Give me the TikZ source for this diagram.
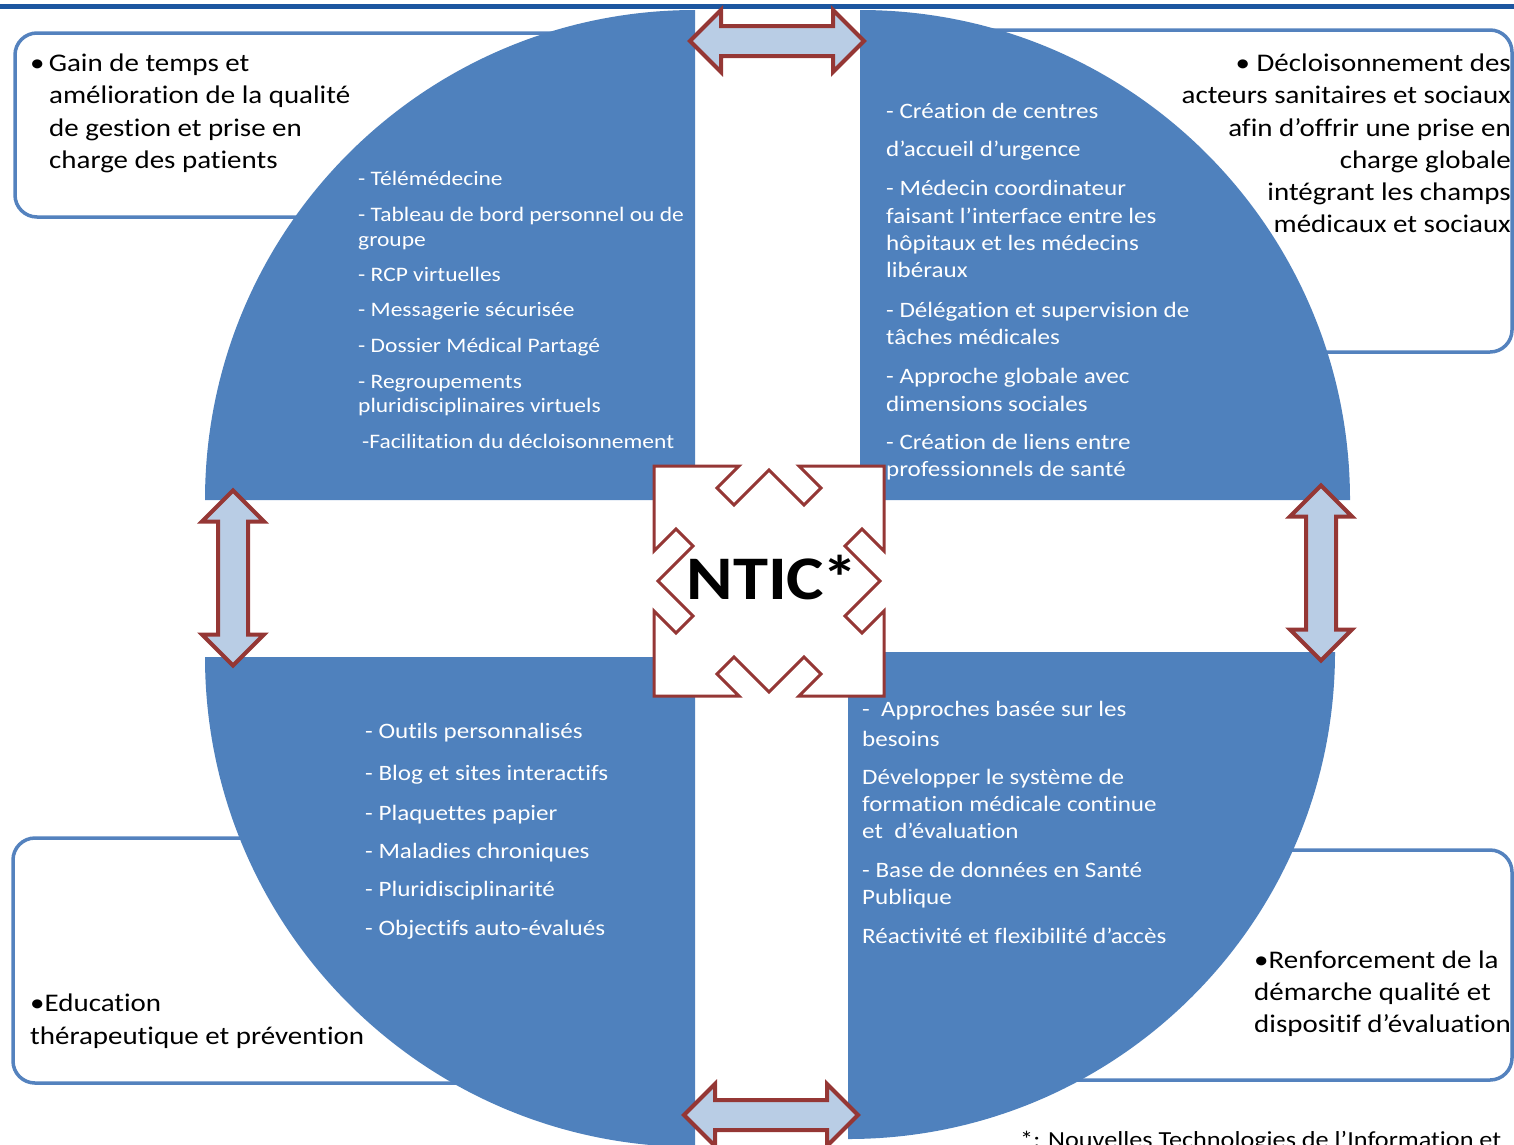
\documentclass[tikz,border=0pt]{standalone}
\usepackage{fontspec}
\setmainfont{Carlito}[FakeStretch=1.14, Ligatures=CommonOff]
\usetikzlibrary{shapes.arrows}
\definecolor{quadblue}{RGB}{79,129,189}
\definecolor{frameblue}{RGB}{84,130,190}
\definecolor{ruleblue}{RGB}{28,86,160}
\definecolor{arrowred}{RGB}{149,55,53}
\definecolor{arrowfill}{RGB}{185,205,229}
\tikzset{
  quadrant/.style={fill=quadblue},
  infobox/.style={draw=frameblue, line width=3.5pt, rounded corners=22pt, fill=white},
  boxline/.style={anchor=base west, inner sep=0pt, font=\fontsize{25.4pt}{30pt}\selectfont},
  boxlineR/.style={boxline, anchor=base east},
  listline/.style={anchor=base west, inner sep=0pt, text=white, font=\fontsize{20.6pt}{25pt}\selectfont},
  listlineL/.style={listline, font=\fontsize{22pt}{26pt}\selectfont},
  linkarrow/.style={double arrow, draw=arrowred, fill=arrowfill, line width=4pt,
    double arrow head extend=16pt, inner sep=13pt, minimum width=58pt}
}
\begin{document}
\begin{tikzpicture}
    \useasboundingbox (0pt,0pt) rectangle (1514pt,-1144pt);
    \draw[ruleblue, line width=5pt] (0pt,-6pt) -- (1514pt,-6pt);
    % frames behind the disc
    \draw[infobox] (15pt,-33pt) rectangle (640pt,-217pt);
    \draw[infobox] (900pt,-30pt) rectangle (1512pt,-352pt);
    \draw[infobox] (13pt,-838pt) rectangle (640pt,-1083pt);
    \draw[infobox] (900pt,-850pt) rectangle (1512pt,-1080pt);
    % four quarter discs
    \fill[quadrant] (695pt,-500pt) -- (205pt,-500pt) arc[start angle=180, end angle=90, radius=490pt] -- cycle;
    \fill[quadrant] (860pt,-500pt) -- (860pt,-10pt) arc[start angle=90, end angle=0, radius=490pt] -- cycle;
    \fill[quadrant] (695pt,-657pt) -- (205pt,-657pt) arc[start angle=180, end angle=270, radius=490pt] -- cycle;
    \fill[quadrant] (848pt,-652pt) -- (1335pt,-652pt) arc[start angle=0, end angle=-90, radius=487pt] -- cycle;
    % double arrows in the gaps
    \node[linkarrow, minimum height=174pt] (toparrow) at (777pt,-41pt) {};
    \node[linkarrow, minimum height=174pt] (botarrow) at (771pt,-1115pt) {};
    \node[linkarrow, minimum height=175pt, rotate=90] (leftarrow) at (233pt,-578pt) {};
    \node[linkarrow, minimum height=175pt, rotate=90] (rightarrow) at (1321pt,-573pt) {};
    % centre
    \draw[arrowred, line width=3pt, fill=white, shift={(769pt,-581pt)}]
      (-115pt,115pt) -- (-30pt,115pt) -- (-52pt,93pt) -- (-35pt,76pt) -- (0pt,111pt)
      -- (35pt,76pt) -- (52pt,93pt) -- (30pt,115pt) -- (115pt,115pt)
      -- (115pt,30pt) -- (93pt,52pt) -- (76pt,35pt) -- (111pt,0pt)
      -- (76pt,-35pt) -- (93pt,-52pt) -- (115pt,-30pt) -- (115pt,-115pt)
      -- (30pt,-115pt) -- (52pt,-93pt) -- (35pt,-76pt) -- (0pt,-111pt)
      -- (-35pt,-76pt) -- (-52pt,-93pt) -- (-30pt,-115pt) -- (-115pt,-115pt)
      -- (-115pt,-30pt) -- (-93pt,-52pt) -- (-76pt,-35pt) -- (-111pt,0pt)
      -- (-76pt,35pt) -- (-93pt,52pt) -- (-115pt,30pt) -- cycle;
    \node[font=\fontsize{62pt}{70pt}\selectfont\bfseries] (ntic) at (772pt,-578pt) {NTIC\kern-2pt*};
    % top left quarter
    \node[listline] (tl1) at (358pt,-185pt) {- Télémédecine};
    \node[listline] (tl2) at (358pt,-221pt) {- Tableau de bord personnel ou de};
    \node[listline] (tl3) at (358pt,-246pt) {groupe};
    \node[listline] (tl4) at (358pt,-281pt) {- RCP virtuelles};
    \node[listline] (tl5) at (358pt,-316pt) {- Messagerie sécurisée};
    \node[listline] (tl6) at (358pt,-352pt) {- Dossier Médical Partagé};
    \node[listline] (tl7) at (358pt,-388pt) {- Regroupements};
    \node[listline] (tl8) at (358pt,-412pt) {pluridisciplinaires virtuels};
    \node[listline] (tl9) at (362pt,-448pt) {-Facilitation du décloisonnement};
    % top right quarter
    \node[listlineL] (tr1) at (886pt,-118pt) {- Création de centres};
    \node[listlineL] (tr2) at (886pt,-156pt) {d’accueil d’urgence};
    \node[listlineL] (tr3) at (886pt,-195pt) {- Médecin coordinateur};
    \node[listlineL] (tr4) at (886pt,-223pt) {faisant l’interface entre les};
    \node[listlineL] (tr5) at (886pt,-250pt) {hôpitaux et les médecins};
    \node[listlineL] (tr6) at (886pt,-277pt) {libéraux};
    \node[listlineL] (tr7) at (886pt,-317pt) {- Délégation et supervision de};
    \node[listlineL] (tr8) at (886pt,-344pt) {tâches médicales};
    \node[listlineL] (tr9) at (886pt,-383pt) {- Approche globale avec};
    \node[listlineL] (tr10) at (886pt,-411pt) {dimensions sociales};
    \node[listlineL] (tr11) at (886pt,-449pt) {- Création de liens entre};
    \node[listlineL] (tr12) at (886pt,-476pt) {professionnels de santé};
    % bottom left quarter
    \node[listlineL] (bl1) at (365pt,-738pt) {- Outils personnalisés};
    \node[listlineL] (bl2) at (365pt,-780pt) {- Blog et sites interactifs};
    \node[listlineL] (bl3) at (365pt,-820pt) {- Plaquettes papier};
    \node[listlineL] (bl4) at (365pt,-858pt) {- Maladies chroniques};
    \node[listlineL] (bl5) at (365pt,-896pt) {- Pluridisciplinarité};
    \node[listlineL] (bl6) at (365pt,-935pt) {- Objectifs auto-évalués};
    % bottom right quarter
    \node[listlineL] (br1) at (862pt,-716pt) {- ~Approches basée sur les};
    \node[listlineL] (br2) at (862pt,-746pt) {besoins};
    \node[listlineL] (br3) at (862pt,-784pt) {Développer le système de};
    \node[listlineL] (br4) at (862pt,-811pt) {formation médicale continue};
    \node[listlineL] (br5) at (862pt,-838pt) {et~ d’évaluation};
    \node[listlineL] (br6) at (862pt,-877pt) {- Base de données en Santé};
    \node[listlineL] (br7) at (862pt,-904pt) {Publique};
    \node[listlineL] (br8) at (862pt,-943pt) {Réactivité et flexibilité d’accès};
    % frame texts
    \node[boxline] (gain1) at (30pt,-71pt) {•\,Gain de temps et};
    \node[boxline] (gain2) at (49pt,-103pt) {amélioration de la qualité};
    \node[boxline] (gain3) at (49pt,-136pt) {de gestion et prise en};
    \node[boxline] (gain4) at (49pt,-168pt) {charge des patients};
    \node[boxlineR] (decl1) at (1511pt,-71pt) {• Décloisonnement des};
    \node[boxlineR] (decl2) at (1511pt,-103pt) {acteurs sanitaires et sociaux};
    \node[boxlineR] (decl3) at (1511pt,-136pt) {afin d’offrir une prise en};
    \node[boxlineR] (decl4) at (1511pt,-168pt) {charge globale};
    \node[boxlineR] (decl5) at (1511pt,-200pt) {intégrant les champs};
    \node[boxlineR] (decl6) at (1511pt,-232pt) {médicaux et sociaux};
    \node[boxline] (edu1) at (30pt,-1011pt) {•Education};
    \node[boxline] (edu2) at (30pt,-1044pt) {thérapeutique et prévention};
    \node[boxline] (renf1) at (1254pt,-968pt) {•Renforcement de la};
    \node[boxline] (renf2) at (1254pt,-1000pt) {démarche qualité et};
    \node[boxline] (renf3) at (1254pt,-1032pt) {dispositif d’évaluation};
    \node[boxline, font=\fontsize{23pt}{26pt}\selectfont] (note) at (1020pt,-1147pt) {*: Nouvelles Technologies de l’Information et};
\end{tikzpicture}
\end{document}
